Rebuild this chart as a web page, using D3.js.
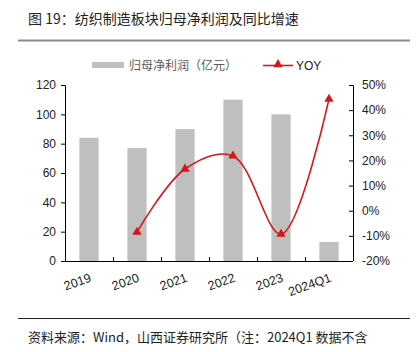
<!DOCTYPE html>
<html>
<head>
<meta charset="utf-8">
<script src="https://cdn.jsdelivr.net/npm/d3@7"></script>
<style>
  body { margin: 0; background: #fff; }
  svg { display: block; }
</style>
</head>
<body>
<svg id="chart" width="419" height="352"></svg>
<script>
// Data
var categories = ["2019", "2020", "2021", "2022", "2023", "2024Q1"];
var profit = [84, 77, 90, 110, 100, 13];
var yoy = [null, -8.5, 16.6, 21.8, -9.3, 44.4];
var leftTicks = [0, 20, 40, 60, 80, 100, 120];
var rightTicks = [-20, -10, 0, 10, 20, 30, 40, 50];

var svg = d3.select("#chart");
var cjk = "'Noto Sans CJK SC', sans-serif";
var latin = "'Liberation Sans', Arial, sans-serif";

// Plot area
var x0 = 65, x1 = 353, yTop = 85, yBot = 261;

var x = d3.scaleBand().domain(categories).range([x0, x1]).paddingInner(0.6).paddingOuter(0.3);
var xb = d3.scaleBand().domain(categories).range([x0, x1]);
var yL = d3.scaleLinear().domain([0, 120]).range([yBot, yTop]);
var yR = d3.scaleLinear().domain([-20, 50]).range([yBot, yTop]);

// Title
svg.append("text")
  .attr("x", 28).attr("y", 24)
  .style("font-family", cjk).style("font-size", "14px").style("fill", "#222")
  .text("图 19：纺织制造板块归母净利润及同比增速");
svg.append("line")
  .attr("x1", 18).attr("x2", 410).attr("y1", 40.5).attr("y2", 40.5)
  .style("stroke", "#8c8c8c").style("stroke-width", 2);

// Bars
svg.append("g").selectAll("rect")
  .data(profit)
  .enter().append("rect")
    .attr("x", function(d, i) { return x(categories[i]); })
    .attr("y", function(d) { return yL(d); })
    .attr("width", x.bandwidth())
    .attr("height", function(d) { return yBot - yL(d); })
    .style("fill", "#bfbfbf");

// Left axis
var gl = svg.append("g").attr("transform", "translate(" + x0 + ",0)")
  .call(d3.axisLeft(yL).tickValues(leftTicks).tickSize(4).tickPadding(5));
// Right axis
var gr = svg.append("g").attr("transform", "translate(" + x1 + ",0)")
  .call(d3.axisRight(yR).tickValues(rightTicks).tickSize(-4).tickPadding(9)
    .tickFormat(function(d) { return d + "%"; }));
[gl, gr].forEach(function(g) {
  g.select(".domain").style("stroke", "#000").attr("d", "M-4," + (yTop + 0.5) + "H0.5V" + yBot);
  g.selectAll("line").style("stroke", "#000");
  g.selectAll("text").style("font-family", latin).style("font-size", "12px").style("fill", "#222");
});

// X axis
svg.append("line")
  .attr("x1", x0).attr("x2", x1).attr("y1", yBot + 0.5).attr("y2", yBot + 0.5)
  .style("stroke", "#000");
svg.append("g").selectAll("line")
  .data(categories.slice(1))
  .enter().append("line")
    .attr("x1", function(d) { return xb(d) + 0.5; })
    .attr("x2", function(d) { return xb(d) + 0.5; })
    .attr("y1", yBot).attr("y2", yBot - 4)
    .style("stroke", "#000");
svg.append("g").selectAll("text")
  .data(categories)
  .enter().append("text")
    .attr("transform", function(d) {
      return "translate(" + (xb(d) + xb.bandwidth() / 2 + 3) + "," + (yBot + 20) + ") rotate(-20)";
    })
    .attr("text-anchor", "end")
    .style("font-family", latin).style("font-size", "12.5px").style("fill", "#222")
    .text(function(d) { return d; });

// YOY line
var pts = yoy.map(function(d, i) { return { c: categories[i], v: d }; })
  .filter(function(d) { return d.v !== null; });
var line = d3.line()
  .x(function(d) { return xb(d.c) + xb.bandwidth() / 2; })
  .y(function(d) { return yR(d.v); })
  .curve(d3.curveCatmullRom.alpha(0.5));
svg.append("path")
  .datum(pts)
  .attr("d", line)
  .style("fill", "none").style("stroke", "#d9141b").style("stroke-width", 1.6);

var tri = d3.symbol().type(d3.symbolTriangle).size(38);
svg.append("g").selectAll("path")
  .data(pts)
  .enter().append("path")
    .attr("d", tri)
    .attr("transform", function(d) {
      return "translate(" + (xb(d.c) + xb.bandwidth() / 2) + "," + yR(d.v) + ")";
    })
    .style("fill", "#d9141b");

// Legend
svg.append("rect")
  .attr("x", 92).attr("y", 62).attr("width", 32).attr("height", 6)
  .style("fill", "#bfbfbf");
svg.append("text")
  .attr("x", 129).attr("y", 70)
  .style("font-family", cjk).style("font-size", "12px").style("fill", "#595959")
  .text("归母净利润（亿元）");
svg.append("line")
  .attr("x1", 263).attr("x2", 293).attr("y1", 65.5).attr("y2", 65.5)
  .style("stroke", "#d9141b").style("stroke-width", 1.6);
svg.append("path")
  .attr("d", tri)
  .attr("transform", "translate(278,64.5)")
  .style("fill", "#d9141b");
svg.append("text")
  .attr("x", 296).attr("y", 70)
  .style("font-family", latin).style("font-size", "12px").style("fill", "#222")
  .text("YOY");

// Footer
svg.append("line")
  .attr("x1", 18).attr("x2", 410).attr("y1", 318.5).attr("y2", 318.5)
  .style("stroke", "#222").style("stroke-width", 1);
svg.append("text")
  .attr("x", 28).attr("y", 342)
  .style("font-family", cjk).style("font-size", "13px").style("fill", "#222")
  .text("资料来源：Wind，山西证券研究所（注：2024Q1 数据不含");
</script>
</body>
</html>
